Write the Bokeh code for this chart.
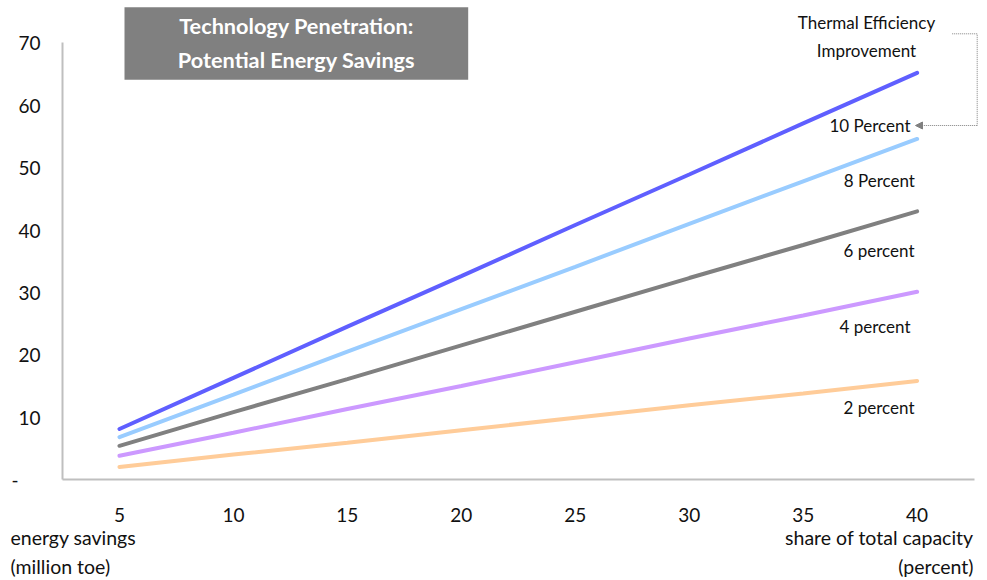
from bokeh.plotting import figure
from bokeh.layouts import column
from bokeh.models import (Range1d, LinearAxis, FixedTicker, Label, Arrow, NormalHead,
                          ColumnDataSource)
from bokeh.core.properties import value
from bokeh.embed import file_html
from bokeh.resources import INLINE

# share of total capacity (percent)
share = [5, 10, 15, 20, 25, 30, 35, 40]

# energy savings (million toe) by thermal efficiency improvement
eff_10 = [8.1, 16.3, 24.5, 32.6, 40.8, 48.9, 57.1, 65.2]
eff_8 = [6.8, 13.6, 20.5, 27.3, 34.1, 41.0, 47.8, 54.6]
eff_6 = [5.4, 10.8, 16.1, 21.5, 26.9, 32.3, 37.6, 43.0]
eff_4 = [3.8, 7.5, 11.3, 15.0, 18.8, 22.6, 26.3, 30.1]
eff_2 = [2.0, 4.0, 5.9, 7.9, 9.9, 11.9, 13.8, 15.8]

series_labels = ["10 Percent", "8 Percent", "6 percent", "4 percent", "2 percent"]
series_colors = ["#5F5FFF", "#99CCFF", "#808080", "#CC99FF", "#FFCC99"]
y_ticks = [0, 10, 20, 30, 40, 50, 60, 70]

FONT = "Lato"
TEXT = "#111111"
W = 987
H_MAIN, H_CAP = 527, 53
LEFT, BOTTOM = 62, 48              # frame offsets in pixels
FRAME_W, FRAME_H = W - LEFT, H_MAIN - BOTTOM
PX_PER_X = 22.79                   # pixels per unit of share
PX_PER_Y = 6.237                   # pixels per unit of savings
X0 = 2.5

x_end = X0 + FRAME_W / PX_PER_X
y_end = FRAME_H / PX_PER_Y


def sx(px):
    """canvas pixel column -> data x"""
    return X0 + (px - LEFT) / PX_PER_X


def sy(py):
    """canvas pixel row -> data y"""
    return (FRAME_H - py) / PX_PER_Y


p = figure(width=W, height=H_MAIN, output_backend="svg", toolbar_location=None,
           x_range=Range1d(X0, x_end), y_range=Range1d(0, y_end),
           x_axis_type=None, y_axis_type=None,
           min_border_left=LEFT, min_border_bottom=BOTTOM,
           min_border_top=0, min_border_right=0)
p.frame_align = False
p.outline_line_color = None
p.grid.visible = False
p.background_fill_color = "white"
p.border_fill_color = "white"

axis_color = "#BFBFBF"
tick_style = dict(major_tick_line_color=None, minor_tick_line_color=None,
                  major_tick_out=0, major_tick_in=0,
                  major_label_text_font=FONT, major_label_text_font_size="19px",
                  major_label_text_color=TEXT,
                  axis_line_color=axis_color, axis_line_width=2)

yaxis = LinearAxis(ticker=FixedTicker(ticks=y_ticks), bounds=(0, 70),
                   major_label_standoff=22,
                   major_label_overrides={0: "-\u2007\u2007"}, **tick_style)
p.add_layout(yaxis, "left")

xaxis = LinearAxis(ticker=FixedTicker(ticks=share), bounds=(X0, 42.5),
                   major_label_standoff=28, **tick_style)
p.add_layout(xaxis, "below")

# series lines
all_series = [eff_10, eff_8, eff_6, eff_4, eff_2]
for vals, color in zip(all_series, series_colors):
    src = ColumnDataSource(dict(x=share, y=vals))
    p.line("x", "y", source=src, line_color=color, line_width=4, line_cap="round")

# series labels to the right
label_pos = [(869.5, 125), (878.8, 180), (878.5, 250), (874.5, 325.7), (878.5, 407)]
for text, (px, py) in zip(series_labels, label_pos):
    p.add_layout(Label(x=sx(px), y=sy(py), text=text, text_font=FONT,
                       text_font_size="17px", text_color=TEXT,
                       text_align="center", text_baseline="middle"))

# legend heading
p.add_layout(Label(x=sx(866), y=sy(36), text="Thermal Efficiency\nImprovement",
                   text_font=FONT, text_font_size="17px", text_color=TEXT,
                   text_align="center", text_baseline="middle",
                   text_line_height=1.3))

# dotted connector from heading to the top series label
conn = ColumnDataSource(dict(x=[sx(951.7), sx(976.7), sx(976.7)],
                             y=[sy(33.3), sy(33.3), sy(125)]))
p.line("x", "y", source=conn, line_color="#808080", line_width=1, line_dash="1 1")
p.add_layout(Arrow(x_start=sx(976.7), y_start=sy(125), x_end=sx(915), y_end=sy(125),
                   line_color="#808080", line_width=1, line_dash="1 1",
                   end=NormalHead(size=7, fill_color="#808080", line_color="#808080")))

# title box
p.quad(left=[sx(124)], right=[sx(467.7)], bottom=[sy(79.3)], top=[sy(6.7)],
       fill_color="#808080", line_color=None)
p.add_layout(Label(x=sx(296), y=sy(42.5), text="Technology Penetration:\nPotential Energy Savings",
                   text_font=FONT, text_font_size="21.7px", text_font_style="bold",
                   text_color="white", text_align="center", text_baseline="middle",
                   text_line_height=1.3))

# axis captions, in a strip under the chart (pixel coordinates)
cap = figure(width=W, height=H_CAP, output_backend="svg", toolbar_location=None,
             x_range=Range1d(0, W), y_range=Range1d(H_CAP, 0),
             x_axis_type=None, y_axis_type=None,
             min_border=0, min_border_left=0, min_border_right=0,
             min_border_top=0, min_border_bottom=0)
cap.frame_align = False
cap.outline_line_color = None
cap.grid.visible = False
cap.background_fill_color = "white"
cap.border_fill_color = "white"

cap_left = ColumnDataSource(dict(x=[10, 10], y=[10, 39],
                                 t=["energy savings", "(million toe)"]))
cap_right = ColumnDataSource(dict(x=[973, 973], y=[10, 39],
                                  t=["share of total capacity", "(percent)"]))
cap.text("x", "y", text="t", source=cap_left, text_font=value(FONT),
         text_font_size="19.5px", text_color=TEXT, text_align="left", text_baseline="middle")
cap.text("x", "y", text="t", source=cap_right, text_font=value(FONT),
         text_font_size="19.5px", text_color=TEXT, text_align="right", text_baseline="middle")

layout = column(p, cap, spacing=0)
open("out.html", "w").write(file_html(layout, INLINE))
